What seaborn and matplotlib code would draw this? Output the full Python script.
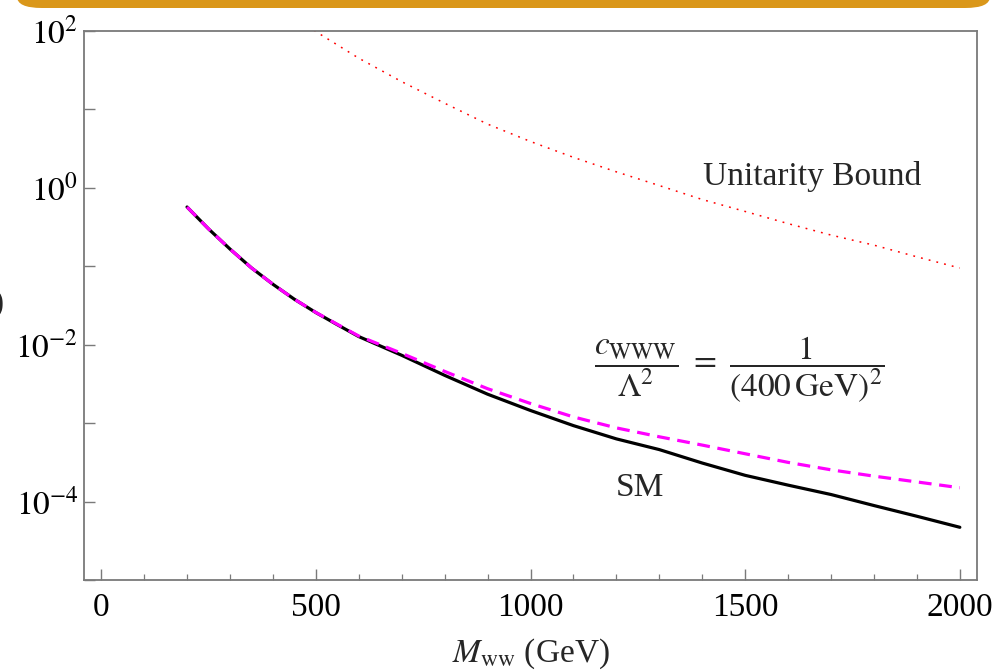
import numpy as np
import pandas as pd
import matplotlib
matplotlib.use("Agg")
import matplotlib.pyplot as plt
from matplotlib.patches import FancyBboxPatch
from matplotlib.ticker import FixedLocator, FuncFormatter
import seaborn as sns

# WW invariant-mass distributions
mww = [200, 250, 300, 350, 400, 450, 500, 550, 600, 700, 800, 900, 1000,
       1100, 1200, 1300, 1400, 1500, 1600, 1700, 1800, 1900, 2000]
sm = [0.57, 0.30, 0.166, 0.0955, 0.059, 0.038, 0.0257, 0.018, 0.0127,
      0.00733, 0.00407, 0.00234, 0.00145, 9.3e-4, 6.3e-4, 4.6e-4, 3.1e-4,
      2.16e-4, 1.62e-4, 1.23e-4, 8.9e-5, 6.5e-5, 4.7e-5]
cwww = [0.57, 0.30, 0.166, 0.0955, 0.059, 0.038, 0.0258, 0.0182, 0.0129,
        0.00776, 0.00457, 0.00275, 0.00178, 0.0012, 8.7e-4, 6.7e-4, 5.25e-4,
        4.07e-4, 3.16e-4, 2.54e-4, 2.11e-4, 1.78e-4, 1.5e-4]

# unitarity bound
mww_ub = [480, 600, 700, 800, 900, 1000, 1100, 1200, 1300, 1400, 1500, 1600,
          1700, 1800, 1900, 2000]
unitarity = [115, 45, 22.6, 12, 6.5, 3.9, 2.45, 1.6, 1.07, 0.71, 0.50, 0.35,
             0.25, 0.186, 0.132, 0.095]

x_major = [0, 500, 1000, 1500, 2000]
y_decades = [-5, -4, -3, -2, -1, 0, 1, 2]
y_labelled = [-4, -2, 0, 2]

sns.set_theme(style="white")
plt.rcParams["font.family"] = ["Liberation Serif", "DejaVu Serif"]
plt.rcParams["mathtext.fontset"] = "stix"

FS = 24

fig = plt.figure(figsize=(9.95, 6.72), dpi=100)
fig.patch.set_facecolor("white")
ax = fig.add_axes([84 / 995, 1 - 580 / 672, (977 - 84) / 995, (580 - 31) / 672])

df = pd.DataFrame({"mww": mww, "sm": sm, "cwww": cwww})
df_ub = pd.DataFrame({"mww": mww_ub, "ub": unitarity})

sns.lineplot(data=df_ub, x="mww", y="ub", ax=ax, color="#ff0000", lw=1.1,
             linestyle=(0, (1.2, 4.0)))
sns.lineplot(data=df, x="mww", y="sm", ax=ax, color="black", lw=2.3)
sns.lineplot(data=df, x="mww", y="cwww", ax=ax, color="#ff00ff", lw=2.3,
             linestyle=(0, (4, 2.4)))

ax.set_yscale("log")
ax.set_xlim(-40, 2040)
ax.set_ylim(1e-5, 1e2)

for side, sp in ax.spines.items():
    sp.set_color("#7a7a7a")
    sp.set_linewidth(1.3)
    sp.set_visible(True)

ax.xaxis.set_major_locator(FixedLocator(x_major))
ax.xaxis.set_minor_locator(FixedLocator([v for v in range(0, 2001, 100) if v % 500]))
ax.yaxis.set_major_locator(FixedLocator([10.0 ** d for d in y_decades]))
ax.yaxis.set_minor_locator(FixedLocator([]))


def ylab(v, pos):
    e = int(round(np.log10(v)))
    if e in y_labelled:
        return r"$10^{%d}$" % e if e >= 0 else r"$10^{-%d}$" % (-e)
    return ""


ax.yaxis.set_major_formatter(FuncFormatter(ylab))
ax.tick_params(axis="both", which="major", direction="in", length=8, width=1.0,
               color="#7a7a7a", labelsize=FS, labelcolor="black",
               bottom=True, left=True, top=False, right=False)
ax.tick_params(axis="x", which="minor", direction="in", length=4, width=0.9,
               color="#7a7a7a", bottom=True, top=False)
ax.tick_params(axis="x", which="major", pad=9)
ax.tick_params(axis="y", which="major", pad=4)
ax.grid(False)

ax.set_xlabel(r"$M_{\rm ww}$ (GeV)", fontsize=FS, labelpad=10)
ax.set_ylabel("")

ax.text(1655, 1.38, "Unitarity Bound", fontsize=FS, ha="center", va="center")
ax.text(1254, 1.5e-4, "SM", fontsize=FS, ha="center", va="center")
ax.text(1487, 4.8e-3,
        r"$\dfrac{c_{\rm WWW}}{\Lambda^2}\ =\ \dfrac{1}{(400\,{\rm GeV})^2}$",
        fontsize=FS, ha="center", va="center")

fig.text(4 / 995, 1 - 303 / 672, r"$d\sigma/dM_{\rm ww}$ (fb/GeV)",
         fontsize=FS, ha="right", va="center")

banner = FancyBboxPatch((17 / 995, 1 - 8 / 672), (990 - 17) / 995, 40 / 672,
                        boxstyle="round,pad=0,rounding_size=0.025",
                        transform=fig.transFigure, facecolor="#da971a",
                        edgecolor="none", mutation_aspect=672 / 995)
fig.patches.append(banner)

fig.savefig("out.png", dpi=100)
